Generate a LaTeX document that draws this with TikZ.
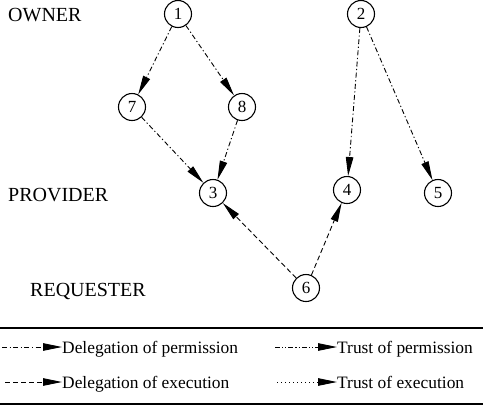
\documentclass[tikz,border=0pt]{standalone}
\usepackage{fontspec}
\setmainfont{Liberation Serif}
\usetikzlibrary{arrows.meta}
\begin{document}
\begin{tikzpicture}[x=1pt,y=-1pt,
  st/.style={circle,draw,line width=1.1pt,minimum size=27pt,inner sep=0pt,font=\fontsize{17}{17}\selectfont},
  lbl/.style={anchor=base west,inner sep=0pt,font=\fontsize{17.4}{17.4}\selectfont},
  big/.style={anchor=base west,inner sep=0pt,font=\fontsize{20}{20}\selectfont},
  tip/.style={-{Triangle[length=19pt,width=7.5pt]}},
  dperm/.style={tip,line width=0.9pt,dash pattern=on 5pt off 2.5pt on 1.2pt off 2.5pt},
  tperm/.style={tip,line width=0.9pt,dash pattern=on 5pt off 2pt on 1.2pt off 2pt on 1.2pt off 2pt},
  dexec/.style={tip,line width=0.9pt,dash pattern=on 5pt off 3pt},
  texec/.style={tip,line width=0.9pt,dash pattern=on 1pt off 3pt},
  rule/.style={line width=1.4pt}]
\useasboundingbox (0,0) rectangle (483,408);
\node[big] (owner) at (8,21) {OWNER};
\node[big] (provider) at (8,201) {PROVIDER};
\node[big] (requester) at (30,296) {REQUESTER};
\node[st] (n1) at (178,14) {1};
\node[st] (n2) at (361,14) {2};
\node[st] (n7) at (132,107) {7};
\node[st] (n8) at (242,107) {8};
\node[st] (n3) at (213,193) {3};
\node[st] (n4) at (347,190) {4};
\node[st] (n5) at (438,193) {5};
\node[st] (n6) at (306,288) {6};
\draw[dperm] (n1) -- (n7);
\draw[dperm] (n1) -- (n8);
\draw[dperm] (n7) -- (n3);
\draw[dperm] (n8) -- (n3);
\draw[dperm] (n2) -- (n4);
\draw[dperm] (n2) -- (n5);
\draw[dexec] (n6) -- (n3);
\draw[dexec] (n6) -- (n4);
% legend
\coordinate (ltop1) at (0,328);
\coordinate (ltop2) at (483,328);
\coordinate (lbot1) at (0,404);
\coordinate (lbot2) at (483,404);
\draw[rule] (ltop1) -- (ltop2);
\draw[rule] (lbot1) -- (lbot2);
\node[lbl] (t1) at (62,353) {Delegation of permission};
\node[lbl] (t2) at (62,388) {Delegation of execution};
\node[lbl] (t3) at (337,353) {Trust of permission};
\node[lbl] (t4) at (337,388) {Trust of execution};
\coordinate (s1) at (2,347);
\coordinate (s2) at (5,382);
\coordinate (s3) at (275,347);
\coordinate (s4) at (277,382);
\draw[dperm] (s1) -- (t1.west |- s1);
\draw[dexec] (s2) -- (t2.west |- s2);
\draw[tperm] (s3) -- (t3.west |- s3);
\draw[texec] (s4) -- (t4.west |- s4);
\end{tikzpicture}
\end{document}
